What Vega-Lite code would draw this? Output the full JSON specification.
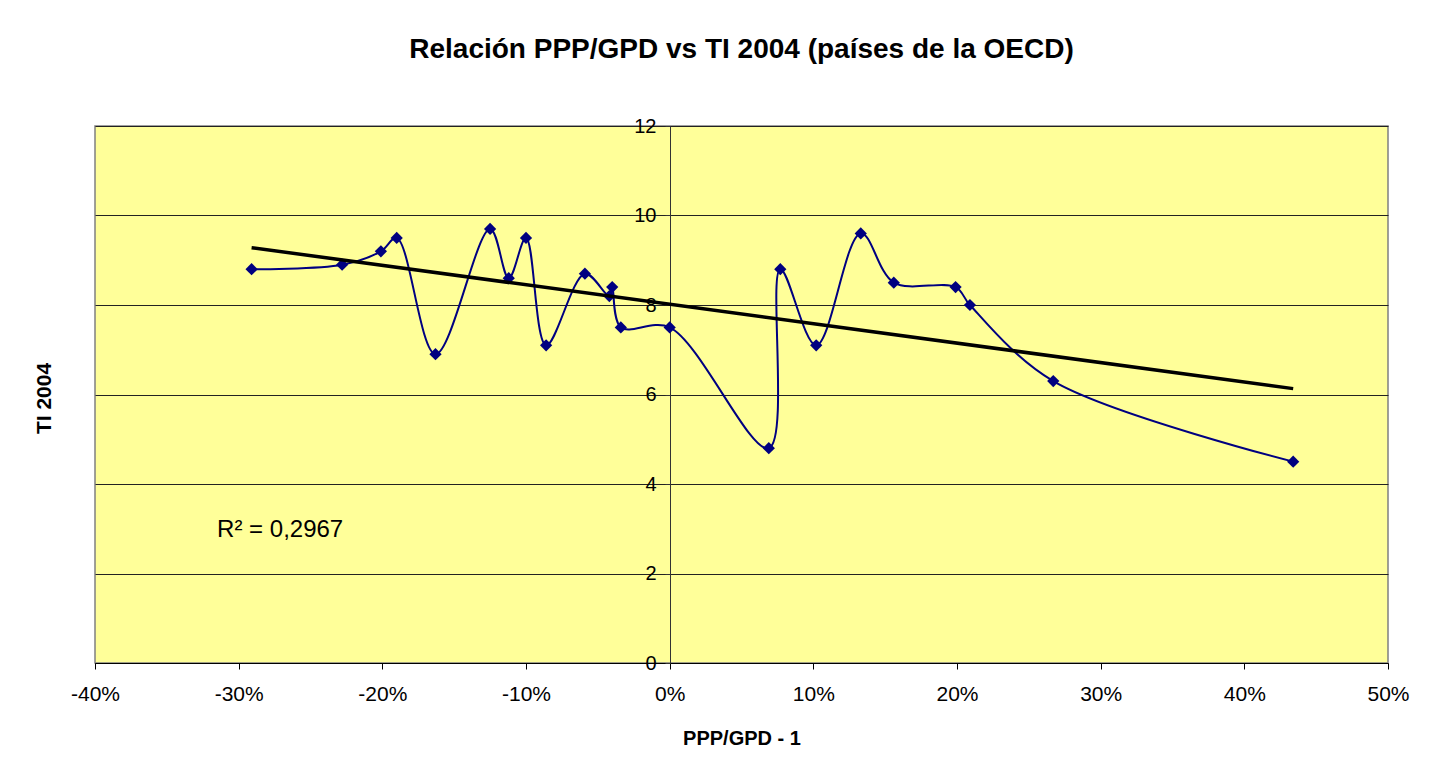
{
  "$schema": "https://vega.github.io/schema/vega-lite/v6.json",
  "autosize": "none",
  "width": 1293,
  "height": 537,
  "padding": {"left": 95, "top": 126, "right": 41, "bottom": 113},
  "background": "white",
  "title": {
    "text": "Relación PPP/GPD vs TI 2004 (países de la OECD)",
    "font": "Liberation Sans",
    "fontSize": 28,
    "fontWeight": "bold",
    "color": "black",
    "anchor": "middle",
    "offset": 52
  },
  "config": {
    "view": {"fill": "#FFFF99", "stroke": "#808080", "strokeWidth": 1.5},
    "font": "Liberation Sans"
  },
  "data": {
    "values": [
      {"x": -0.291, "y": 8.8},
      {"x": -0.228, "y": 8.9},
      {"x": -0.201, "y": 9.2},
      {"x": -0.190, "y": 9.5},
      {"x": -0.163, "y": 6.9},
      {"x": -0.125, "y": 9.7},
      {"x": -0.112, "y": 8.6},
      {"x": -0.100, "y": 9.5},
      {"x": -0.086, "y": 7.1},
      {"x": -0.059, "y": 8.7},
      {"x": -0.042, "y": 8.2},
      {"x": -0.040, "y": 8.4},
      {"x": -0.034, "y": 7.5},
      {"x": 0.000, "y": 7.5},
      {"x": 0.069, "y": 4.8},
      {"x": 0.077, "y": 8.8},
      {"x": 0.102, "y": 7.1},
      {"x": 0.133, "y": 9.6},
      {"x": 0.156, "y": 8.5},
      {"x": 0.199, "y": 8.4},
      {"x": 0.209, "y": 8.0},
      {"x": 0.267, "y": 6.3},
      {"x": 0.434, "y": 4.5}
    ]
  },
  "encoding": {
    "x": {
      "field": "x",
      "type": "quantitative",
      "scale": {"domain": [-0.4, 0.5], "nice": false, "zero": false},
      "axis": {
        "title": "PPP/GPD - 1",
        "titleFont": "Liberation Sans",
        "titleFontSize": 20,
        "titleFontWeight": "bold",
        "titleColor": "black",
        "titlePadding": 24,
        "values": [-0.4, -0.3, -0.2, -0.1, 0, 0.1, 0.2, 0.3, 0.4, 0.5],
        "format": ".0%",
        "labelExpr": "replace(datum.label, '\u2212', '-')",
        "labelFont": "Liberation Sans",
        "labelFontSize": 21,
        "labelColor": "black",
        "labelPadding": 14,
        "labelFlush": false,
        "labelOverlap": false,
        "domainColor": "black",
        "domainWidth": 1,
        "tickColor": "black",
        "tickSize": 6,
        "grid": false
      }
    },
    "y": {
      "field": "y",
      "type": "quantitative",
      "scale": {"domain": [0, 12], "nice": false},
      "axis": {
        "title": "TI 2004",
        "titleFont": "Liberation Sans",
        "titleFontSize": 21,
        "titleFontWeight": "bold",
        "titleColor": "black",
        "titleX": -626,
        "titleY": 272,
        "titleAngle": -90,
        "titleAlign": "center",
        "titleBaseline": "middle",
        "offset": -575,
        "values": [0, 2, 4, 6, 8, 10, 12],
        "labelFont": "Liberation Sans",
        "labelFontSize": 20,
        "labelColor": "black",
        "labelPadding": 9,
        "domainColor": "#333333",
        "tickColor": "#333333",
        "tickSize": 5,
        "grid": true,
        "gridColor": "#222222",
        "gridWidth": 1
      }
    }
  },
  "layer": [
    {
      "mark": {"type": "line", "interpolate": "catmull-rom", "color": "#000080", "strokeWidth": 2}
    },
    {
      "mark": {"type": "point", "shape": "diamond", "filled": true, "color": "#000080", "size": 150, "opacity": 1}
    },
    {
      "transform": [{"regression": "y", "on": "x"}],
      "mark": {"type": "line", "color": "black", "strokeWidth": 3.5}
    },
    {
      "data": {"values": [{"x": -0.315, "y": 2.97, "label": "R² = 0,2967"}]},
      "mark": {"type": "text", "align": "left", "baseline": "middle", "font": "Liberation Sans", "fontSize": 24, "color": "black"},
      "encoding": {"text": {"field": "label"}}
    }
  ]
}
